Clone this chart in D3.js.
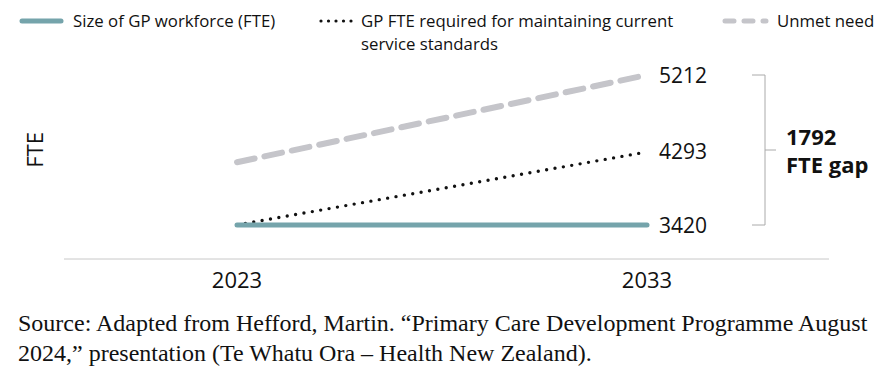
<!DOCTYPE html>
<html>
<head>
<meta charset="utf-8">
<script src="https://cdn.jsdelivr.net/npm/d3@7"></script>
<style>
  body { margin: 0; background: #fff; }
  svg { display: block; font-family: "Open Sans", sans-serif; }
</style>
</head>
<body>
<div id="chart"></div>
<script>
// data
const years = ["2023", "2033"];
const workforce = [3420, 3420];
const required = [3420, 4293];
const unmet = [4170, 5212];
const gapLabel = ["1792", "FTE gap"];
const sourceLines = [
  "Source: Adapted from Hefford, Martin. \u201cPrimary Care Development Programme August",
  "2024,\u201d presentation (Te Whatu Ora \u2013 Health New Zealand)."
];

const width = 890, height = 372;
const teal = "#75a4ab", grey = "#c5c5ca";

const svg = d3.select("#chart").append("svg")
  .attr("width", width).attr("height", height);

// scales
const x = d3.scalePoint().domain(years).range([237, 647]);
const y = d3.scaleLinear().domain([3420, 5212]).range([225, 75]);

const series = [
  { name: "unmet", values: unmet, color: grey, w: 6, dash: "18,10" },
  { name: "required", values: required, color: "#111", w: 3.4, dash: "0,8.5" },
  { name: "workforce", values: workforce, color: teal, w: 5, dash: null }
];

const line = d3.line().x((d, i) => x(years[i])).y(d => y(d));

// x axis
svg.append("line")
  .attr("x1", 64).attr("x2", 829)
  .attr("y1", 259).attr("y2", 259)
  .attr("stroke", "#c8c8c8").attr("stroke-width", 1);

svg.selectAll(".tick-label")
  .data(years)
  .enter().append("text")
  .attr("x", d => x(d))
  .attr("y", 288)
  .attr("text-anchor", "middle")
  .attr("font-size", 22)
  .attr("fill", "#111")
  .text(d => d);

// y label
svg.append("text")
  .attr("transform", "translate(43,150) rotate(-90)")
  .attr("text-anchor", "middle")
  .attr("font-size", 22)
  .attr("fill", "#111")
  .text("FTE");

// lines
svg.selectAll(".series")
  .data(series)
  .enter().append("path")
  .attr("d", d => line(d.values))
  .attr("fill", "none")
  .attr("stroke", d => d.color)
  .attr("stroke-width", d => d.w)
  .attr("stroke-linecap", "round")
  .attr("stroke-dasharray", d => d.dash);

// end labels
const endVals = [unmet[1], required[1], workforce[1]];
svg.selectAll(".end-label")
  .data(endVals)
  .enter().append("text")
  .attr("x", x("2033") + 12)
  .attr("y", d => y(d))
  .attr("dy", "0.36em")
  .attr("font-size", 21)
  .attr("fill", "#111")
  .text(d => d);

// gap bracket
const bx = 765;
const bracket = d3.path();
bracket.moveTo(bx - 13, y(unmet[1]));
bracket.lineTo(bx, y(unmet[1]));
bracket.lineTo(bx, y(workforce[1]));
bracket.lineTo(bx - 13, y(workforce[1]));
const midY = (y(unmet[1]) + y(workforce[1])) / 2;
bracket.moveTo(bx, midY);
bracket.lineTo(bx + 11, midY);
svg.append("path")
  .attr("d", bracket.toString())
  .attr("fill", "none")
  .attr("stroke", "#aaa")
  .attr("stroke-width", 1);

svg.selectAll(".gap-label")
  .data(gapLabel)
  .enter().append("text")
  .attr("x", 786)
  .attr("y", (d, i) => 145 + i * 28)
  .attr("font-size", 22)
  .attr("font-weight", "bold")
  .attr("fill", "#111")
  .text(d => d);

// legend
const legend = svg.append("g");
legend.append("line")
  .attr("x1", 22).attr("x2", 61).attr("y1", 21).attr("y2", 21)
  .attr("stroke", teal).attr("stroke-width", 5).attr("stroke-linecap", "round");
legend.append("text").attr("x", 73).attr("y", 27).attr("font-size", 16.8).attr("fill", "#111")
  .text("Size of GP workforce (FTE)");

legend.append("line")
  .attr("x1", 321).attr("x2", 352).attr("y1", 21).attr("y2", 21)
  .attr("stroke", "#111").attr("stroke-width", 3.2).attr("stroke-linecap", "round")
  .attr("stroke-dasharray", "0,7.5");
legend.selectAll(".leg2")
  .data(["GP FTE required for maintaining current", "service standards"])
  .enter().append("text")
  .attr("x", 361).attr("y", (d, i) => 27 + i * 23)
  .attr("font-size", 16.8).attr("fill", "#111")
  .text(d => d);

legend.append("line")
  .attr("x1", 725).attr("x2", 766).attr("y1", 21).attr("y2", 21)
  .attr("stroke", grey).attr("stroke-width", 5).attr("stroke-linecap", "round")
  .attr("stroke-dasharray", "9,10");
legend.append("text").attr("x", 777).attr("y", 27).attr("font-size", 16.8).attr("fill", "#111")
  .text("Unmet need");

// source
svg.selectAll(".source")
  .data(sourceLines)
  .enter().append("text")
  .attr("x", 18)
  .attr("y", (d, i) => 331 + i * 30)
  .attr("font-family", "'Liberation Serif', serif")
  .attr("font-size", 24)
  .attr("fill", "#111")
  .text(d => d);
</script>
</body>
</html>
